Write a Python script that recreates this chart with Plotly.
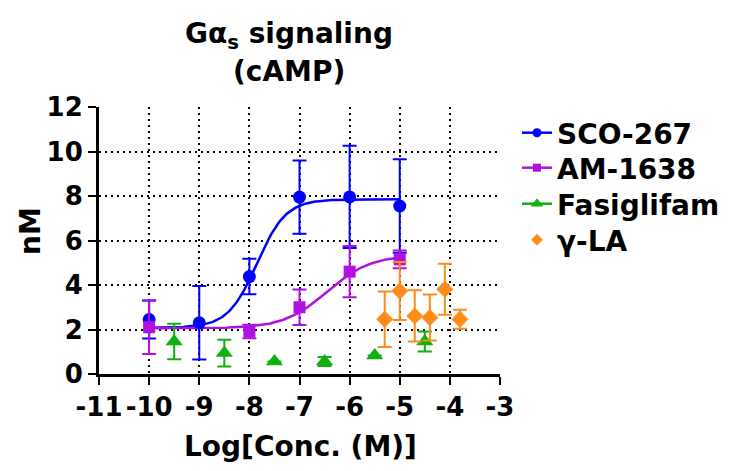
import numpy as np
import plotly.graph_objects as go

# ---- data ----
sco_x = [-10, -9, -8, -7, -6, -5]
sco_y = [2.45, 2.3, 4.38, 7.95, 7.96, 7.55]
sco_e = [0.85, 1.65, 0.8, 1.65, 2.3, 2.1]

am_x = [-10, -8, -7, -6, -5]
am_y = [2.1, 1.91, 3.0, 4.6, 5.15]
am_e = [1.2, 0.3, 0.8, 1.15, 0.4]

fas_x = [-9.5, -8.5, -7.5, -6.5, -5.5, -4.5]
fas_y = [1.46, 0.94, 0.56, 0.56, 0.83, 1.46]
fas_e = [0.8, 0.6, 0.0, 0.2, 0.0, 0.45]

gla_x = [-5.3, -5.0, -4.7, -4.4, -4.1, -3.8]
gla_y = [2.46, 3.73, 2.61, 2.54, 3.81, 2.46]
gla_e = [1.25, 1.3, 1.15, 1.03, 1.15, 0.43]

# fitted sigmoid parameters (bottom, top, logEC50, hill)
sco_fit = (2.08, 7.85, -7.85, 1.5)
am_fit = (2.05, 5.35, -6.45, 1.0)
fit_range = (-10, -5)

x_ticks = [-11, -10, -9, -8, -7, -6, -5, -4, -3]
y_ticks = [0, 2, 4, 6, 8, 10, 12]

BLUE = "#0000FF"
MAG = "#B010E0"
GREEN = "#10B010"
ORANGE = "#FF8C1A"
FONT = "DejaVu Sans"


def curve(p):
    b, t, ec, h = p
    xs = np.linspace(fit_range[0], fit_range[1], 200)
    ys = b + (t - b) / (1 + 10 ** ((ec - xs) * h))
    return xs, ys


fig = go.Figure()

for p, col in [(sco_fit, BLUE), (am_fit, MAG)]:
    xs, ys = curve(p)
    fig.add_trace(go.Scatter(x=xs, y=ys, mode="lines", line=dict(color=col, width=2.5),
                             showlegend=False, hoverinfo="skip"))

series = [
    ("SCO-267", sco_x, sco_y, sco_e, BLUE, "circle", 13, True),
    ("AM-1638", am_x, am_y, am_e, MAG, "square", 12, True),
    ("Fasiglifam", fas_x, fas_y, fas_e, GREEN, "triangle-up", 15, True),
    ("γ-LA", gla_x, gla_y, gla_e, ORANGE, "diamond", 13, False),
]

for name, xs, ys, es, col, sym, sz, has_line in series:
    fig.add_trace(go.Scatter(
        x=xs, y=ys, mode="markers", name=name, showlegend=False,
        marker=dict(color=col, symbol=sym, size=sz),
        error_y=dict(type="data", array=es, visible=True, color=col, thickness=2, width=7),
    ))

legend_names = ["legend", "legend2", "legend3", "legend4"]
legend_rows = [133, 168, 204, 240]  # row centres, pixels from top

for (name, xs, ys, es, col, sym, sz, has_line), lg in zip(series, legend_names):
    fig.add_trace(go.Scatter(
        x=[None], y=[None], name=name, legend=lg,
        mode="lines+markers" if has_line else "markers",
        marker=dict(color=col, symbol=sym, size=sz - 4),
        line=dict(color=col, width=2.5),
    ))

axis_common = dict(
    showline=True, linecolor="black", linewidth=3,
    ticks="outside", ticklen=8, tickwidth=2, tickcolor="black",
    showgrid=True, gridcolor="black", griddash="2px,4px", gridwidth=1.8,
    zeroline=False, automargin=False,
    tickfont=dict(family=FONT, size=26, color="black", weight="bold"),
)

fig.update_xaxes(range=[-11, -3], tickvals=x_ticks, ticktext=[str(v) for v in x_ticks],
                 **axis_common)
fig.update_yaxes(range=[0, 12], tickvals=y_ticks, ticktext=[str(v) for v in y_ticks],
                 **axis_common)

tfont = dict(family=FONT, size=28, color="black", weight="bold")
W, H = 731, 471
L, R, T, B = 99, 231, 107, 97
pw = W - L - R
ph = H - T - B


def px_x(x):
    return (x - L) / pw


def px_y(y):
    return (H - B - y) / ph


legends = {}
for lg, row in zip(legend_names, legend_rows):
    legends[lg] = dict(x=517 / W, y=1 - row / H, xref="container", yref="container",
                       xanchor="left", yanchor="middle", font=tfont,
                       bgcolor="rgba(0,0,0,0)", itemwidth=30)

fig.update_layout(
    width=W, height=H,
    margin=dict(l=L, r=R, t=T, b=B, autoexpand=False),
    plot_bgcolor="white", paper_bgcolor="white",
    annotations=[
        dict(text="Gα<sub>s</sub> signaling", x=px_x(289), y=px_y(35), xref="paper", yref="paper",
             xanchor="center", yanchor="middle", showarrow=False, font=tfont),
        dict(text="(cAMP)", x=px_x(289), y=px_y(72), xref="paper", yref="paper",
             xanchor="center", yanchor="middle", showarrow=False, font=tfont),
        dict(text="Log[Conc. (M)]", x=px_x(300), y=px_y(446), xref="paper", yref="paper",
             xanchor="center", yanchor="middle", showarrow=False, font=tfont),
        dict(text="nM", x=px_x(30), y=px_y(231), xref="paper", yref="paper", textangle=-90,
             xanchor="center", yanchor="middle", showarrow=False, font=tfont),
    ],
    **legends,
)

fig.write_html("out.html")
